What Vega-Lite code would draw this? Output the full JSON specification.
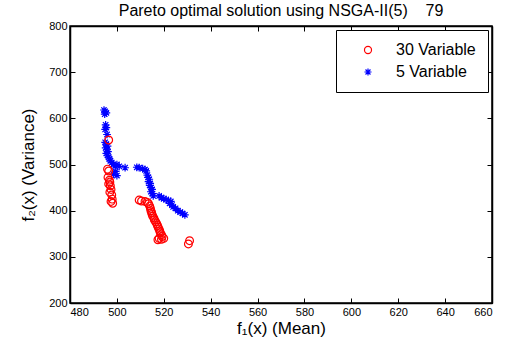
{
  "$schema": "https://vega.github.io/schema/vega-lite/v6.json",
  "width": 422,
  "height": 277,
  "autosize": {"type": "none"},
  "padding": {"left": 70, "top": 26, "right": 19, "bottom": 43},
  "background": "white",
  "title": {"text": "Pareto optimal solution using NSGA-II(5)\u00a0\u00a0\u00a0\u00a079", "font": "Liberation Sans", "fontSize": 16, "fontWeight": "normal", "color": "black", "offset": 1},
  "config": {
    "view": {"stroke": "black", "strokeWidth": 1.5},
    "axis": {"grid": false, "domainColor": "black", "domainWidth": 1.5, "tickColor": "black", "tickSize": -5, "tickWidth": 1, "labelColor": "black", "labelFont": "Liberation Sans", "labelFontSize": 11, "titleFont": "Liberation Sans", "titleFontSize": 17, "titleFontWeight": "normal", "titleColor": "black"},
    "legend": {"orient": "none", "legendX": 266, "legendY": 4, "fillColor": "white", "strokeColor": "black", "strokeWidth": 1, "padding": 12, "labelFont": "Liberation Sans", "labelFontSize": 16, "labelColor": "black", "symbolSize": 50, "symbolStrokeWidth": 1.2, "rowPadding": 6, "symbolOffset": 12, "labelOffset": 20, "title": null}
  },
  "data": {"values": [
    {"g": "5 Variable", "m": 494.5, "v": 618},
    {"g": "5 Variable", "m": 495.0, "v": 615},
    {"g": "5 Variable", "m": 495.5, "v": 612},
    {"g": "5 Variable", "m": 494.8, "v": 609},
    {"g": "5 Variable", "m": 495.2, "v": 586},
    {"g": "5 Variable", "m": 495.5, "v": 580},
    {"g": "5 Variable", "m": 495.0, "v": 576},
    {"g": "5 Variable", "m": 495.8, "v": 565},
    {"g": "5 Variable", "m": 495.0, "v": 548},
    {"g": "5 Variable", "m": 495.5, "v": 544},
    {"g": "5 Variable", "m": 496.0, "v": 540},
    {"g": "5 Variable", "m": 495.2, "v": 536},
    {"g": "5 Variable", "m": 495.8, "v": 532},
    {"g": "5 Variable", "m": 496.2, "v": 528},
    {"g": "5 Variable", "m": 495.5, "v": 524},
    {"g": "5 Variable", "m": 496.0, "v": 520},
    {"g": "5 Variable", "m": 496.5, "v": 516},
    {"g": "5 Variable", "m": 496.8, "v": 512},
    {"g": "5 Variable", "m": 497.2, "v": 508},
    {"g": "5 Variable", "m": 497.8, "v": 504},
    {"g": "5 Variable", "m": 498.5, "v": 500},
    {"g": "5 Variable", "m": 499.2, "v": 497},
    {"g": "5 Variable", "m": 500.0, "v": 500},
    {"g": "5 Variable", "m": 501.0, "v": 496},
    {"g": "5 Variable", "m": 503.5, "v": 493},
    {"g": "5 Variable", "m": 499.5, "v": 485},
    {"g": "5 Variable", "m": 498.5, "v": 479},
    {"g": "5 Variable", "m": 500.0, "v": 476},
    {"g": "5 Variable", "m": 508.5, "v": 494},
    {"g": "5 Variable", "m": 509.5, "v": 493},
    {"g": "5 Variable", "m": 511.0, "v": 491},
    {"g": "5 Variable", "m": 512.0, "v": 489},
    {"g": "5 Variable", "m": 512.5, "v": 486},
    {"g": "5 Variable", "m": 513.0, "v": 477},
    {"g": "5 Variable", "m": 513.3, "v": 472},
    {"g": "5 Variable", "m": 513.8, "v": 468},
    {"g": "5 Variable", "m": 513.5, "v": 463},
    {"g": "5 Variable", "m": 514.2, "v": 459},
    {"g": "5 Variable", "m": 514.0, "v": 455},
    {"g": "5 Variable", "m": 514.6, "v": 450},
    {"g": "5 Variable", "m": 515.0, "v": 446},
    {"g": "5 Variable", "m": 514.5, "v": 441},
    {"g": "5 Variable", "m": 515.2, "v": 437},
    {"g": "5 Variable", "m": 515.5, "v": 432},
    {"g": "5 Variable", "m": 518.0, "v": 432},
    {"g": "5 Variable", "m": 519.0, "v": 428},
    {"g": "5 Variable", "m": 520.0, "v": 426},
    {"g": "5 Variable", "m": 521.0, "v": 424},
    {"g": "5 Variable", "m": 522.0, "v": 422},
    {"g": "5 Variable", "m": 523.0, "v": 420},
    {"g": "5 Variable", "m": 522.5, "v": 416},
    {"g": "5 Variable", "m": 523.5, "v": 412},
    {"g": "5 Variable", "m": 524.0, "v": 408},
    {"g": "5 Variable", "m": 525.0, "v": 405},
    {"g": "5 Variable", "m": 526.0, "v": 400},
    {"g": "5 Variable", "m": 527.0, "v": 397},
    {"g": "5 Variable", "m": 528.0, "v": 394},
    {"g": "5 Variable", "m": 529.0, "v": 391},
    {"g": "30 Variable", "m": 496.5, "v": 553},
    {"g": "30 Variable", "m": 496.0, "v": 490},
    {"g": "30 Variable", "m": 496.5, "v": 486},
    {"g": "30 Variable", "m": 496.2, "v": 472},
    {"g": "30 Variable", "m": 496.8, "v": 466},
    {"g": "30 Variable", "m": 497.0, "v": 462},
    {"g": "30 Variable", "m": 496.5, "v": 458},
    {"g": "30 Variable", "m": 497.2, "v": 454},
    {"g": "30 Variable", "m": 497.5, "v": 446},
    {"g": "30 Variable", "m": 497.0, "v": 440},
    {"g": "30 Variable", "m": 497.8, "v": 434},
    {"g": "30 Variable", "m": 498.0, "v": 425},
    {"g": "30 Variable", "m": 497.5, "v": 420},
    {"g": "30 Variable", "m": 498.2, "v": 416},
    {"g": "30 Variable", "m": 509.5, "v": 423},
    {"g": "30 Variable", "m": 510.5, "v": 421},
    {"g": "30 Variable", "m": 512.0, "v": 420},
    {"g": "30 Variable", "m": 513.0, "v": 418},
    {"g": "30 Variable", "m": 513.5, "v": 415},
    {"g": "30 Variable", "m": 514.0, "v": 410},
    {"g": "30 Variable", "m": 514.3, "v": 405},
    {"g": "30 Variable", "m": 514.5, "v": 400},
    {"g": "30 Variable", "m": 514.8, "v": 396},
    {"g": "30 Variable", "m": 515.0, "v": 392},
    {"g": "30 Variable", "m": 515.3, "v": 388},
    {"g": "30 Variable", "m": 515.8, "v": 384},
    {"g": "30 Variable", "m": 516.0, "v": 380},
    {"g": "30 Variable", "m": 516.5, "v": 376},
    {"g": "30 Variable", "m": 517.0, "v": 372},
    {"g": "30 Variable", "m": 517.3, "v": 368},
    {"g": "30 Variable", "m": 517.6, "v": 364},
    {"g": "30 Variable", "m": 518.0, "v": 360},
    {"g": "30 Variable", "m": 518.3, "v": 356},
    {"g": "30 Variable", "m": 518.5, "v": 352},
    {"g": "30 Variable", "m": 519.0, "v": 348},
    {"g": "30 Variable", "m": 519.3, "v": 344},
    {"g": "30 Variable", "m": 518.0, "v": 340},
    {"g": "30 Variable", "m": 517.5, "v": 337},
    {"g": "30 Variable", "m": 519.0, "v": 338},
    {"g": "30 Variable", "m": 520.0, "v": 340},
    {"g": "30 Variable", "m": 530.5, "v": 328},
    {"g": "30 Variable", "m": 531.0, "v": 335}
  ]},
  "layer": [
    {
      "mark": {"type": "point", "filled": false, "strokeWidth": 1.2, "size": 60, "opacity": 1},
      "encoding": {
        "x": {"field": "m", "type": "quantitative", "scale": {"domain": [480, 660], "nice": false, "zero": false}, "axis": {"values": [480, 500, 520, 540, 560, 580, 600, 620, 640, 660], "title": "f₁(x) (Mean)", "labelPadding": 8, "titlePadding": 3}},
        "y": {"field": "v", "type": "quantitative", "scale": {"domain": [200, 800], "nice": false, "zero": false}, "axis": {"values": [200, 300, 400, 500, 600, 700, 800], "title": "f₂(x) (Variance)", "labelPadding": 8, "titlePadding": 11}},
        "color": {"field": "g", "type": "nominal", "scale": {"domain": ["30 Variable", "5 Variable"], "range": ["#ff0000", "#0000ff"]}},
        "shape": {"field": "g", "type": "nominal", "scale": {"domain": ["30 Variable", "5 Variable"], "range": ["circle", "M-1,0H1M0,-1V1M-0.7,-0.7L0.7,0.7M-0.7,0.7L0.7,-0.7"]}}
      }
    },
    {
      "mark": {"type": "point", "opacity": 0},
      "encoding": {
        "x": {"field": "m", "type": "quantitative", "axis": {"orient": "top", "values": [480, 500, 520, 540, 560, 580, 600, 620, 640, 660], "labels": false, "title": null}},
        "y": {"field": "v", "type": "quantitative", "axis": {"orient": "right", "values": [200, 300, 400, 500, 600, 700, 800], "labels": false, "title": null}}
      }
    }
  ],
  "resolve": {"axis": {"x": "independent", "y": "independent"}}
}
